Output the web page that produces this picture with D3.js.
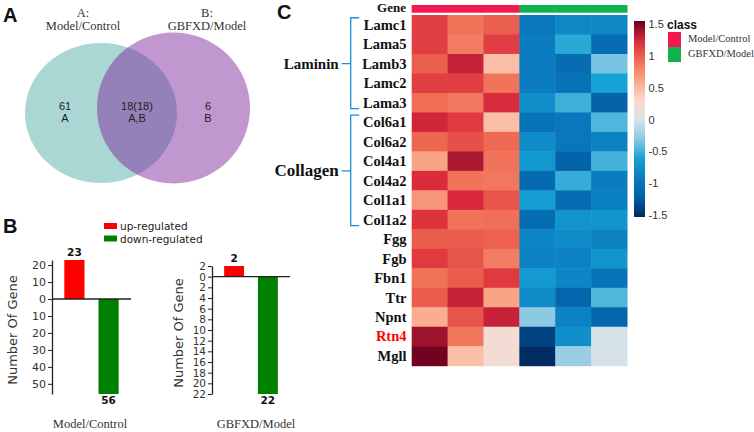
<!DOCTYPE html>
<html><head><meta charset="utf-8">
<script src="https://cdn.jsdelivr.net/npm/d3@7"></script>
<style>body{margin:0;background:#fff}svg{display:block}</style>
</head><body>
<svg id="c" width="754" height="432"></svg>
<script>
// ---------- DATA ----------
const vennSetNames = ["A:", "B:"];
const vennSetLabels = ["Model/Control", "GBFXD/Model"];
const vennCounts = [61, 18, 6];
const vennRegionText = ["61", "18(18)", "6"];
const vennRegionIds = ["A", "A,B", "B"];

const barComparisons = ["Model/Control", "GBFXD/Model"];
const upCounts = [23, 2];
const downCounts = [56, 22];
const barDirections = ["up-regulated", "down-regulated"];
const barTicks1 = [20, 10, 0, -10, -20, -30, -40, -50];
const barTicks2 = [2, 0, -2, -4, -6, -8, -10, -12, -14, -16, -18, -20, -22];

const genes = ["Lamc1","Lama5","Lamb3","Lamc2","Lama3","Col6a1","Col6a2","Col4a1","Col4a2","Col1a1","Col1a2","Fgg","Fgb","Fbn1","Ttr","Npnt","Rtn4","Mgll"];
const samples = ["MC1","MC2","MC3","GM1","GM2","GM3"];
const sampleClass = ["Model/Control","Model/Control","Model/Control","GBFXD/Model","GBFXD/Model","GBFXD/Model"];
const classes = ["Model/Control", "GBFXD/Model"];
const heatValues = [
  [1.10, 0.85, 0.95, -0.95, -0.80, -0.80],
  [1.10, 0.80, 1.10, -0.90, -0.55, -1.05],
  [0.95, 1.25, 0.45, -0.90, -1.05, -0.35],
  [1.10, 1.10, 0.85, -0.90, -1.00, -0.60],
  [0.88, 0.83, 1.18, -0.75, -0.50, -1.15],
  [1.22, 1.12, 0.45, -1.00, -0.95, -0.45],
  [0.92, 1.02, 0.90, -0.78, -0.95, -0.85],
  [0.60, 1.32, 0.85, -0.68, -1.15, -0.48],
  [1.18, 0.85, 0.83, -1.08, -0.52, -0.90],
  [0.68, 1.20, 1.00, -0.62, -1.05, -0.87],
  [1.15, 0.86, 0.87, -1.05, -0.70, -0.70],
  [0.96, 0.96, 0.94, -0.82, -0.78, -0.85],
  [1.12, 1.00, 0.80, -0.85, -0.85, -0.70],
  [0.86, 0.96, 1.12, -0.66, -0.82, -0.98],
  [0.96, 1.25, 0.60, -0.78, -1.12, -0.45],
  [0.55, 1.00, 1.25, -0.30, -0.85, -1.12],
  [1.36, 0.84, 0.20, -1.35, -0.75, -0.03],
  [1.48, 0.45, 0.20, -1.48, -0.25, -0.03]
];
const geneGroups = ["Laminin", "Collagen"];
const groupFirst = ["Lamc1", "Col6a1"];
const groupLast = ["Lama3", "Col1a2"];
const colorbarTicks = [1.5, 1, 0.5, 0, -0.5, -1, -1.5];

// ---------- STYLE ----------
const SERIF = "'Liberation Serif','Times New Roman',serif";
const SANS = "'DejaVu Sans',Verdana,sans-serif";
const ARIAL = "'Liberation Sans',Arial,sans-serif";
const svg = d3.select("#c");

// panel letters
[["A",3,22],["B",3,233],["C",277,19]].forEach(([t,x,y]) =>
  svg.append("text").attr("x",x).attr("y",y).text(t)
    .attr("font-family",ARIAL).attr("font-weight","bold").attr("font-size",20).attr("fill","#111"));

// ---------- PANEL A : Venn ----------
const gA = svg.append("g");
const ell = [{cx:101,cy:113,rx:76,ry:70,fill:"#aad6d4"},{cx:173.5,cy:108,rx:76.5,ry:75.5,fill:"#c197cf"}];
const defs = svg.append("defs");
defs.append("clipPath").attr("id","clipL").append("ellipse")
  .attr("cx",ell[0].cx).attr("cy",ell[0].cy).attr("rx",ell[0].rx).attr("ry",ell[0].ry);
gA.selectAll("ellipse.set").data(ell).join("ellipse").attr("class","set")
  .attr("cx",d=>d.cx).attr("cy",d=>d.cy).attr("rx",d=>d.rx).attr("ry",d=>d.ry).attr("fill",d=>d.fill);
gA.append("ellipse").attr("clip-path","url(#clipL)")
  .attr("cx",ell[1].cx).attr("cy",ell[1].cy).attr("rx",ell[1].rx).attr("ry",ell[1].ry).attr("fill","#9581b9");
const setX = [83, 207];
vennSetNames.forEach((n,i)=>{
  gA.append("text").attr("x",setX[i]).attr("y",17).attr("text-anchor","middle").text(n)
    .attr("font-family",SERIF).attr("font-size",12.5).attr("fill","#333");
  gA.append("text").attr("x",setX[i]).attr("y",30).attr("text-anchor","middle").text(vennSetLabels[i])
    .attr("font-family",SERIF).attr("font-size",12.5).attr("fill","#333");
});
const regionX = [65, 137, 208];
vennRegionText.forEach((t,i)=>{
  gA.append("text").attr("x",regionX[i]).attr("y",110).attr("text-anchor","middle").text(t)
    .attr("font-family",ARIAL).attr("font-size",11).attr("fill","#222");
  gA.append("text").attr("x",regionX[i]).attr("y",121.5).attr("text-anchor","middle").text(vennRegionIds[i])
    .attr("font-family",ARIAL).attr("font-size",11).attr("fill","#222");
});

// ---------- PANEL B : bars ----------
const gB = svg.append("g");
const dirColors = ["#ff0000", "#008000"];
barDirections.forEach((d,i)=>{
  gB.append("rect").attr("x",104).attr("y",223+i*12.5).attr("width",13).attr("height",6).attr("fill",dirColors[i]);
  gB.append("text").attr("x",120).attr("y",230+i*12.5).text(d)
    .attr("font-family",SANS).attr("font-size",10.5).attr("fill","#222");
});
function barChart(idx, axisX, lineEnd, top, ticks, titleX, labelX){
  const up = upCounts[idx], down = downCounts[idx];
  const y = d3.scaleLinear().domain([-down, up]).range([394, top]);
  const x = d3.scaleBand().domain(barDirections).range([axisX, lineEnd]).paddingInner(0.41).paddingOuter(0.36);
  const g = gB.append("g");
  const vals = [up, -down];
  g.selectAll("rect.bar").data(barDirections).join("rect").attr("class","bar")
    .attr("x",d=>x(d)).attr("width",x.bandwidth())
    .attr("y",(d,i)=>y(Math.max(0,vals[i]))).attr("height",(d,i)=>Math.abs(y(vals[i])-y(0)))
    .attr("fill",(d,i)=>dirColors[i]);
  g.selectAll("text.val").data(barDirections).join("text").attr("class","val")
    .attr("x",d=>x(d)+x.bandwidth()/2).attr("y",(d,i)=>i===0? y(vals[i])-4 : y(vals[i])+10)
    .attr("text-anchor","middle").text((d,i)=>Math.abs(vals[i]))
    .attr("font-family",SANS).attr("font-weight","bold").attr("font-size",10.5).attr("fill","#111");
  const ax = g.append("g").attr("transform",`translate(${axisX},0)`)
    .call(d3.axisLeft(y).tickValues(ticks).tickFormat(d=>Math.abs(d)).tickSize(4).tickSizeOuter(0).tickPadding(2));
  ax.select(".domain").attr("stroke","#222").attr("stroke-width",1.3);
  ax.selectAll(".tick line").attr("stroke","#222");
  ax.selectAll(".tick text").attr("font-family",SANS).attr("font-size",idx===0?11:10.5).attr("fill","#333");
  g.append("line").attr("x1",axisX).attr("x2",lineEnd).attr("y1",y(0)).attr("y2",y(0)).attr("stroke","#222").attr("stroke-width",1.3);
  g.append("text").attr("transform",`translate(${titleX},${(y.range()[0]+y.range()[1])/2+3}) rotate(-90)`)
    .attr("text-anchor","middle").text("Number Of Gene")
    .attr("font-family",SANS).attr("font-size",13).attr("fill","#333");
  g.append("text").attr("x",labelX).attr("y",428).attr("text-anchor","middle").text(barComparisons[idx])
    .attr("font-family",SERIF).attr("font-size",12.5).attr("fill","#333");
}
barChart(0, 52, 131, 260, barTicks1, 17, 90);
barChart(1, 212, 290, 266, barTicks2, 183, 256);

// ---------- PANEL C : heatmap ----------
const gC = svg.append("g");
const color = d3.scaleLinear()
  .domain([-1.5,-1.2,-0.9,-0.6,-0.3,0,0.3,0.6,0.9,1.2,1.5])
  .range(["#00285e","#045ea6","#0a7cbf","#16a2d4","#8ccae4","#dde3e8","#fcd8c8","#f9a484","#ef6a52","#d8283a","#6a001f"])
  .clamp(true);
const hx = d3.scaleBand().domain(samples).range([411.7, 627]);
const hy = d3.scaleBand().domain(genes).range([15, 365.7]);
const cells = [];
heatValues.forEach((row,r)=>row.forEach((v,c)=>cells.push({g:genes[r],s:samples[c],v})));
gC.selectAll("rect.cell").data(cells).join("rect").attr("class","cell")
  .attr("x",d=>hx(d.s)).attr("y",d=>hy(d.g)).attr("width",hx.bandwidth()+0.5).attr("height",hy.bandwidth()+0.5)
  .attr("fill",d=>color(d.v));
const classColor = d3.scaleOrdinal().domain(classes).range(["#f5174f","#10b24b"]);
gC.selectAll("rect.cls").data(samples).join("rect").attr("class","cls")
  .attr("x",d=>hx(d)).attr("y",5).attr("width",hx.bandwidth()+0.5).attr("height",7.7)
  .attr("fill",(d,i)=>classColor(sampleClass[i]));
gC.append("text").attr("x",406).attr("y",12).attr("text-anchor","end").text("Gene")
  .attr("font-family",SERIF).attr("font-weight","bold").attr("font-size",13).attr("fill","#111");
gC.selectAll("text.gene").data(genes).join("text").attr("class","gene")
  .attr("x",406.5).attr("y",d=>hy(d)+hy.bandwidth()/2+5).attr("text-anchor","end").text(d=>d)
  .attr("font-family",SERIF).attr("font-weight","bold").attr("font-size",14.5)
  .attr("fill",d=>d==="Rtn4"?"#ff0000":"#111");
// brackets
geneGroups.forEach((gname,i)=>{
  const y0 = hy(groupFirst[i])+hy.bandwidth()/2-7, y1 = hy(groupLast[i])+hy.bandwidth()/2+6;
  const ym = i===0 ? hy("Lamb3")+hy.bandwidth()/2 : (hy("Col4a1")+hy("Col4a2"))/2+hy.bandwidth()/2;
  const bx = 350.7;
  gC.append("path").attr("d",`M${bx+8.5},${y0}H${bx}V${y1}H${bx+8.5}M${bx},${ym}H${bx-9}`)
    .attr("fill","none").attr("stroke","#1a8fd4").attr("stroke-width",1.3);
  gC.append("text").attr("x",bx-12).attr("y",ym+5).attr("text-anchor","end").text(gname)
    .attr("font-family",SERIF).attr("font-weight","bold").attr("font-size",i===0?15:17).attr("fill","#111");
});
// colorbar
const cb = d3.scaleLinear().domain([1.5,-1.5]).range([24,215]);
const grad = defs.append("linearGradient").attr("id","cbg").attr("x1",0).attr("x2",0).attr("y1",0).attr("y2",1);
d3.range(0,1.0001,0.05).forEach(t=>grad.append("stop").attr("offset",t).attr("stop-color",color(1.5-3*t)));
gC.append("rect").attr("x",634).attr("y",cb(1.5)-3).attr("width",11).attr("height",cb(-1.5)-cb(1.5)+5).attr("fill","url(#cbg)");
gC.selectAll("text.cbt").data(colorbarTicks).join("text").attr("class","cbt")
  .attr("x",648.5).attr("y",d=>cb(d)+4).text(d=>String(d))
  .attr("font-family",ARIAL).attr("font-size",11).attr("fill","#333");
// class legend
gC.append("text").attr("x",667).attr("y",29).text("class")
  .attr("font-family",ARIAL).attr("font-weight","bold").attr("font-size",12).attr("fill","#111");
classes.forEach((c,i)=>{
  gC.append("rect").attr("x",668).attr("y",32+i*15).attr("width",13).attr("height",15).attr("fill",classColor(c));
  gC.append("text").attr("x",688).attr("y",42+i*15).text(c)
    .attr("font-family",SERIF).attr("font-size",10.5).attr("fill","#333");
});
</script>
</body></html>
